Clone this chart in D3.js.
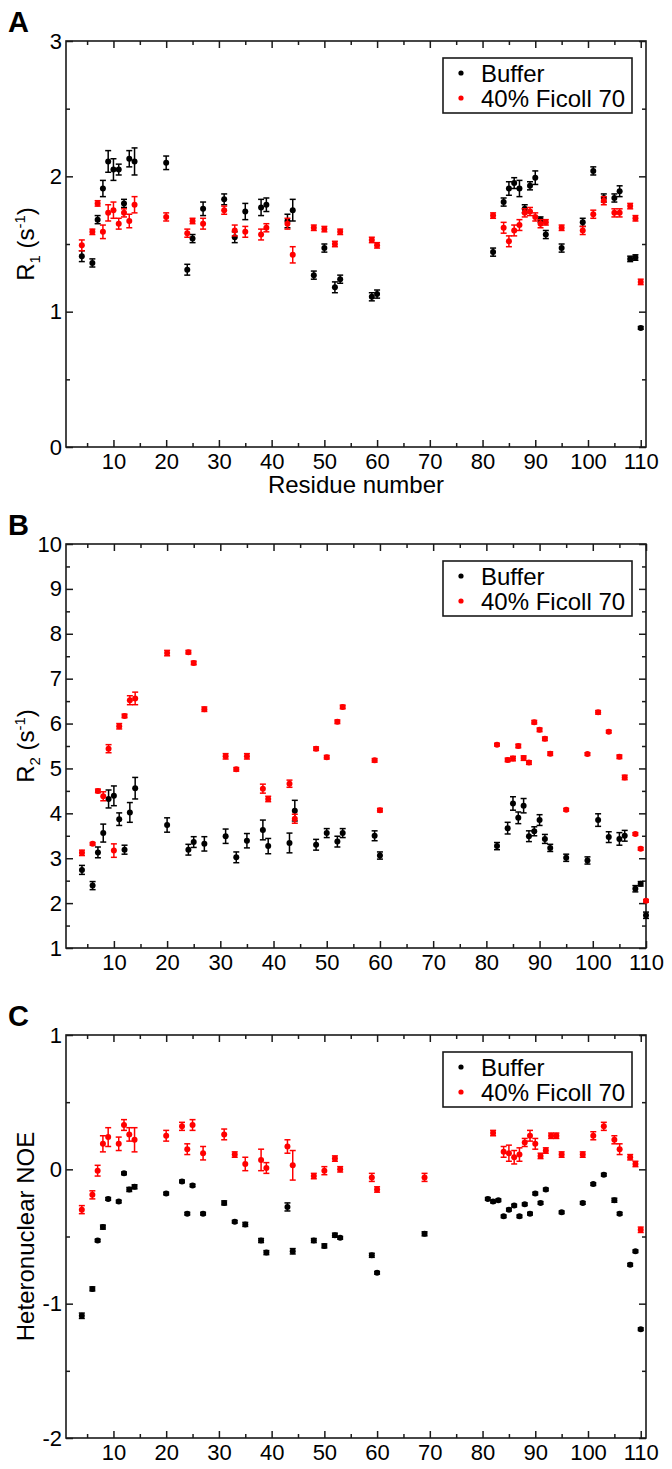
<!DOCTYPE html>
<html>
<head>
<meta charset="utf-8">
<script src="https://cdn.jsdelivr.net/npm/d3@7"></script>
<style>
  body { margin: 0; background: #fff; }
  svg { display: block; font-family: "Liberation Sans", Arial, Helvetica, sans-serif; }
</style>
</head>
<body>
<div id="chart"></div>
<script>
// residues measured in panels A and B
const resAB = [4,6,7,8,9,10,11,12,13,14,20,24,25,27,31,33,35,38,39,43,44,48,50,52,53,59,60,
               82,84,85,86,87,88,89,90,91,92,95,99,101,103,105,106,108,109,110];

// R1 (panel A)
const r1Buffer    = [1.41,1.36,1.68,1.91,2.11,2.05,2.05,1.80,2.13,2.11,2.10,1.31,1.54,1.76,1.83,1.55,1.74,1.77,1.79,1.67,1.75,1.27,1.47,1.18,1.24,1.11,1.13,
                     1.44,1.81,1.91,1.95,1.91,1.76,1.93,1.99,1.68,1.57,1.47,1.66,2.04,1.84,1.84,1.89,1.39,1.40,0.88];
const r1BufferErr = [0.04,0.03,0.03,0.06,0.08,0.08,0.04,0.03,0.06,0.10,0.05,0.04,0.03,0.05,0.04,0.04,0.06,0.06,0.05,0.05,0.08,0.03,0.03,0.04,0.03,0.03,0.03,
                     0.03,0.03,0.05,0.04,0.06,0.03,0.03,0.05,0.02,0.03,0.03,0.03,0.03,0.03,0.03,0.04,0.02,0.02,0.01];
const r1Ficoll    = [1.49,1.59,1.80,1.59,1.73,1.75,1.65,1.73,1.67,1.79,1.70,1.58,1.67,1.65,1.75,1.60,1.59,1.57,1.62,1.65,1.42,1.62,1.61,1.50,1.59,1.53,1.49,
                     1.71,1.62,1.52,1.60,1.64,1.73,1.74,1.70,1.65,1.66,1.62,1.60,1.72,1.82,1.73,1.73,1.78,1.69,1.22];
const r1FicollErr = [0.04,0.02,0.02,0.05,0.06,0.06,0.04,0.03,0.05,0.06,0.03,0.03,0.02,0.04,0.03,0.04,0.04,0.04,0.03,0.04,0.06,0.02,0.02,0.02,0.02,0.02,0.02,
                     0.02,0.04,0.04,0.04,0.04,0.03,0.03,0.03,0.03,0.02,0.02,0.03,0.03,0.03,0.03,0.03,0.02,0.02,0.02];

// R2 (panel B)
const r2Buffer    = [2.74,2.39,3.13,3.56,4.32,4.39,3.87,3.19,4.02,4.56,3.74,3.19,3.36,3.32,3.49,3.02,3.39,3.63,3.27,3.34,4.06,3.30,3.56,3.37,3.56,3.50,3.06,
                     3.27,3.67,4.22,3.90,4.17,3.49,3.60,3.85,3.43,3.23,3.01,2.95,3.85,3.47,3.43,3.50,2.32,2.43,1.73];
const r2BufferErr = [0.10,0.09,0.12,0.20,0.20,0.22,0.14,0.10,0.22,0.24,0.16,0.12,0.12,0.16,0.16,0.12,0.16,0.22,0.17,0.22,0.23,0.12,0.10,0.12,0.10,0.11,0.08,
                     0.08,0.13,0.15,0.13,0.16,0.12,0.10,0.12,0.10,0.08,0.08,0.08,0.14,0.12,0.14,0.12,0.07,0.05,0.07];
const r2Ficoll    = [3.12,3.32,4.50,4.38,5.44,3.17,5.94,6.17,6.52,6.56,7.57,7.59,7.35,6.32,5.27,4.98,5.27,4.55,4.32,4.66,3.88,5.44,5.25,6.04,6.37,5.18,4.07,
                     5.53,5.19,5.22,5.50,5.23,5.13,6.03,5.86,5.66,5.33,4.08,5.32,6.25,5.82,5.26,4.80,3.54,3.21,2.05];
const r2FicollErr = [0.06,0.03,0.04,0.10,0.09,0.15,0.06,0.04,0.10,0.14,0.06,0.04,0.04,0.05,0.06,0.04,0.06,0.10,0.06,0.08,0.10,0.04,0.04,0.04,0.04,0.04,0.04,
                     0.03,0.04,0.05,0.04,0.05,0.04,0.04,0.04,0.04,0.04,0.03,0.03,0.04,0.03,0.04,0.05,0.03,0.03,0.03];

// heteronuclear NOE (panel C)
const noeBufferRes = [4,6,7,8,9,11,12,13,14,20,23,24,25,27,31,33,35,38,39,43,44,48,50,52,53,59,60,69,
                      81,82,83,84,85,86,87,88,89,90,91,92,95,99,101,103,105,106,108,109,110];
const noeBuffer    = [-1.09,-0.89,-0.53,-0.43,-0.22,-0.24,-0.03,-0.15,-0.13,-0.18,-0.09,-0.33,-0.12,-0.33,-0.25,-0.39,-0.41,-0.53,-0.62,-0.28,-0.61,-0.53,-0.57,-0.49,-0.51,-0.64,-0.77,-0.48,
                      -0.22,-0.24,-0.23,-0.35,-0.30,-0.27,-0.35,-0.26,-0.33,-0.18,-0.25,-0.15,-0.32,-0.25,-0.11,-0.04,-0.23,-0.33,-0.71,-0.61,-1.19];
const noeBufferErr = [0.02,0.015,0.01,0.015,0.01,0.01,0.01,0.015,0.015,0.01,0.01,0.01,0.01,0.01,0.015,0.01,0.015,0.015,0.015,0.03,0.02,0.015,0.015,0.015,0.01,0.015,0.01,0.015,
                      0.01,0.01,0.01,0.01,0.01,0.01,0.01,0.01,0.01,0.01,0.01,0.01,0.01,0.01,0.01,0.01,0.015,0.01,0.01,0.01,0.01];
const noeFicollRes = [4,6,7,8,9,11,12,13,14,20,23,24,25,27,31,33,35,38,39,43,44,48,50,52,53,59,60,69,
                      82,84,85,86,87,88,89,90,91,92,93,94,95,99,101,103,105,106,108,109,110];
const noeFicoll    = [-0.30,-0.19,-0.01,0.19,0.24,0.19,0.33,0.26,0.22,0.25,0.32,0.15,0.33,0.12,0.26,0.11,0.04,0.07,0.01,0.17,0.03,-0.05,-0.01,0.08,0.00,-0.06,-0.15,-0.06,
                      0.27,0.13,0.12,0.09,0.11,0.20,0.25,0.19,0.10,0.14,0.25,0.25,0.11,0.11,0.25,0.32,0.22,0.15,0.09,0.04,-0.45];
const noeFicollErr = [0.03,0.03,0.04,0.06,0.07,0.05,0.04,0.05,0.09,0.04,0.03,0.04,0.04,0.05,0.04,0.02,0.05,0.08,0.04,0.05,0.11,0.02,0.03,0.02,0.02,0.03,0.02,0.03,
                      0.02,0.04,0.06,0.05,0.05,0.03,0.04,0.04,0.02,0.02,0.02,0.02,0.02,0.02,0.03,0.03,0.03,0.04,0.02,0.02,0.02];

const seriesNames = ["Buffer", "40% Ficoll 70"];
const seriesColors = ["#000000", "#ff0000"];

const W = 672, H = 1469;
const left = 66, right = 646;
// plain hyphen for negative tick labels, like the original
const intFmt = d => String(Math.round(d));

const svg = d3.select("#chart").append("svg")
    .attr("width", W).attr("height", H);
svg.append("rect").attr("width", W).attr("height", H).attr("fill", "#fff");

function pack(res, val, err) {
    return res.map((r, i) => ({ r: r, v: val[i], e: err[i] }));
}

function drawPanel(p) {
    const g = svg.append("g");
    const x = d3.scaleLinear().domain(p.xDomain).range([left, right]);
    const y = d3.scaleLinear().domain(p.yDomain).range([p.bottom, p.top]);

    const xMajor = d3.range(10, 111, 10);
    const xMinor = d3.range(5, 110, 10);
    const yMajor = d3.range(p.yDomain[0], p.yDomain[1] + 0.001, 1);
    const yMinor = d3.range(p.yDomain[0] + 0.5, p.yDomain[1], 1);

    function addAxis(axis, tx, ty, labels) {
        const a = g.append("g").attr("transform", `translate(${tx},${ty})`).call(axis);
        a.select(".domain").remove();
        a.selectAll(".tick line").attr("stroke", "#1a1a1a").attr("stroke-width", 1.5);
        a.selectAll(".tick text").attr("fill", "#000").style("font-size", "22px")
            .style("font-family", "'Liberation Sans', Arial, Helvetica, sans-serif");
        if (!labels) a.selectAll(".tick text").remove();
        return a;
    }

    // bottom + top
    addAxis(d3.axisBottom(x).tickValues(xMajor).tickSizeInner(-7).tickSizeOuter(0).tickPadding(6)
        .tickFormat(intFmt), 0, p.bottom, p.xLabels);
    addAxis(d3.axisBottom(x).tickValues(xMinor).tickSizeInner(-4).tickSizeOuter(0), 0, p.bottom, false);
    addAxis(d3.axisTop(x).tickValues(xMajor).tickSizeInner(-7).tickSizeOuter(0), 0, p.top, false);
    addAxis(d3.axisTop(x).tickValues(xMinor).tickSizeInner(-4).tickSizeOuter(0), 0, p.top, false);
    // left + right
    addAxis(d3.axisLeft(y).tickValues(yMajor).tickSizeInner(-7).tickSizeOuter(0).tickPadding(4)
        .tickFormat(intFmt), left, 0, true);
    addAxis(d3.axisLeft(y).tickValues(yMinor).tickSizeInner(-4).tickSizeOuter(0), left, 0, false);
    addAxis(d3.axisRight(y).tickValues(yMajor).tickSizeInner(-7).tickSizeOuter(0), right, 0, false);
    addAxis(d3.axisRight(y).tickValues(yMinor).tickSizeInner(-4).tickSizeOuter(0), right, 0, false);

    g.append("rect")
        .attr("x", left).attr("y", p.top)
        .attr("width", right - left).attr("height", p.bottom - p.top)
        .attr("fill", "none").attr("stroke", "#1a1a1a").attr("stroke-width", 1.6);

    // panel letter
    g.append("text").attr("x", 8).attr("y", p.top - 9)
        .style("font-size", "29px").style("font-weight", "bold").text(p.letter);

    // y title
    const yt = g.append("text")
        .attr("transform", `translate(34,${(p.top + p.bottom) / 2}) rotate(-90)`)
        .attr("text-anchor", "middle").style("font-size", "24px");
    p.yTitle(yt);

    if (p.xTitle) {
        g.append("text").attr("x", (left + right) / 2).attr("y", p.bottom + 46)
            .attr("text-anchor", "middle").style("font-size", "24px").text(p.xTitle);
    }

    // data series, buffer first then ficoll on top
    p.series.forEach((s, k) => {
        const col = seriesColors[k];
        const sg = g.append("g").attr("stroke", col).attr("fill", col);
        const pts = sg.selectAll("g.pt").data(s).enter().append("g").attr("class", "pt");
        pts.append("line")
            .attr("x1", d => x(d.r)).attr("x2", d => x(d.r))
            .attr("y1", d => y(d.v - d.e)).attr("y2", d => y(d.v + d.e))
            .attr("stroke-width", 1.5);
        pts.append("line")
            .attr("x1", d => x(d.r) - 3).attr("x2", d => x(d.r) + 3)
            .attr("y1", d => y(d.v + d.e)).attr("y2", d => y(d.v + d.e))
            .attr("stroke-width", 1.5);
        pts.append("line")
            .attr("x1", d => x(d.r) - 3).attr("x2", d => x(d.r) + 3)
            .attr("y1", d => y(d.v - d.e)).attr("y2", d => y(d.v - d.e))
            .attr("stroke-width", 1.5);
        pts.append("circle")
            .attr("cx", d => x(d.r)).attr("cy", d => y(d.v)).attr("r", 3)
            .attr("stroke", "none");
    });

    // legend
    const lx = 443, ly = p.top + 17;
    const lg = g.append("g");
    lg.append("rect").attr("x", lx).attr("y", ly).attr("width", 189).attr("height", 55)
        .attr("fill", "#fff").attr("stroke", "#1a1a1a").attr("stroke-width", 1.6);
    seriesNames.forEach((name, k) => {
        lg.append("circle").attr("cx", lx + 18).attr("cy", ly + 15 + k * 25).attr("r", 2.6)
            .attr("fill", seriesColors[k]);
        lg.append("text").attr("x", lx + 38).attr("y", ly + 24 + k * 25)
            .style("font-size", "24px").text(name);
    });
}

function ratesTitle(sub) {
    return function (t) {
        t.append("tspan").text("R");
        t.append("tspan").attr("dy", 6).style("font-size", "15px").text(sub);
        t.append("tspan").attr("dy", -6).text(" (s");
        t.append("tspan").attr("dy", -9).style("font-size", "15px").text("-1");
        t.append("tspan").attr("dy", 9).text(")");
    };
}

drawPanel({
    letter: "A", top: 41, bottom: 447, xDomain: [1, 111], yDomain: [0, 3],
    xLabels: true, xTitle: "Residue number", yTitle: ratesTitle("1"),
    series: [pack(resAB, r1Buffer, r1BufferErr), pack(resAB, r1Ficoll, r1FicollErr)]
});
drawPanel({
    letter: "B", top: 544, bottom: 948, xDomain: [1, 110], yDomain: [1, 10],
    xLabels: true, yTitle: ratesTitle("2"),
    series: [pack(resAB, r2Buffer, r2BufferErr), pack(resAB, r2Ficoll, r2FicollErr)]
});
drawPanel({
    letter: "C", top: 1035, bottom: 1438, xDomain: [1, 111], yDomain: [-2, 1],
    xLabels: true, yTitle: t => t.text("Heteronuclear NOE"),
    series: [pack(noeBufferRes, noeBuffer, noeBufferErr), pack(noeFicollRes, noeFicoll, noeFicollErr)]
});
</script>
</body>
</html>
